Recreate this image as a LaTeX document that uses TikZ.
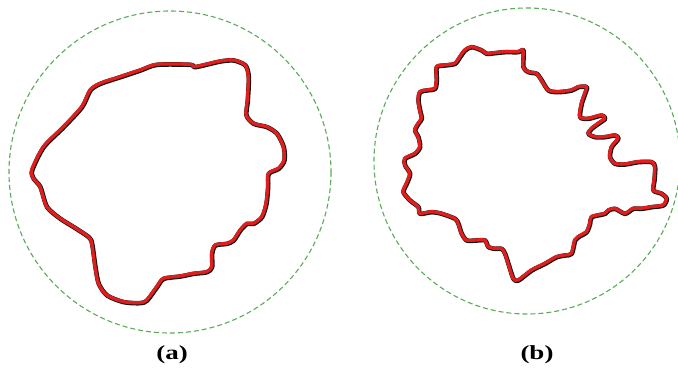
\documentclass[tikz,border=0pt]{standalone}
\usepackage{fontspec}
\setmainfont{Liberation Serif}
\usepackage{xcolor}
\definecolor{boundgreen}{RGB}{90,170,90}
\definecolor{contourred}{RGB}{225,30,30}
\definecolor{contourdark}{RGB}{25,20,20}

\begin{document}
\begin{tikzpicture}[x=1pt, y=-1pt,
  bound/.style={boundgreen, line width=1.1pt, dash pattern=on 5pt off 3pt},
  shade/.style={contourdark, line width=4.6pt, line join=round},
  contour/.style={contourred, line width=3.3pt, line join=round},
  caption/.style={font=\fontsize{20}{20}\selectfont\bfseries, xscale=1.35, anchor=base}]
  \useasboundingbox (0,0) rectangle (678,369);
  % outer boundaries
  \draw[bound] (170,172) circle[radius=161];
  \draw[bound] (527,161) circle[radius=153];
  % contour (a)
  \begin{scope}[scale=1/3]
    \foreach \sty/\dx in {shade/1.5, contour/0} {
    \draw[\sty, xshift=\dx, yshift=-\dx] plot[smooth cycle, tension=0.45] coordinates {
      (95,510) (130,440) (190,380) (245,320) (270,270) (300,250) (360,230)
      (420,210) (470,193) (570,193) (580,200) (600,197) (660,183) (700,180)
      (735,195) (745,230) (742,300) (738,345) (760,370) (800,380) (830,400)
      (850,440) (852,480) (835,505) (805,520) (803,560) (798,610) (785,650)
      (760,670) (740,670) (720,690) (700,720) (680,730) (645,735) (635,760)
      (635,800) (620,815) (580,820) (540,828) (490,835) (470,860) (440,900)
      (420,908) (370,905) (320,885) (295,850) (285,800) (275,730) (265,710)
      (220,680) (180,655) (140,620) (120,560) (100,535)};
    }
  \end{scope}
  % contour (b)
  \begin{scope}[shift={(338,0)}, scale=1/3]
    \foreach \sty/\dx in {shade/1.5, contour/0} {
    \draw[\sty, xshift=\dx, yshift=-\dx] plot[smooth cycle, tension=0.45] coordinates {
      (400,140) (430,150) (445,160) (470,158) (500,155) (540,155) (555,150)
      (555,200) (570,215) (595,220) (610,240) (630,270) (660,275) (700,270)
      (720,260) (745,260) (740,280) (730,310) (725,350) (750,355) (790,345)
      (800,355) (780,370) (760,385) (750,400) (770,410) (800,410) (830,405)
      (840,415) (820,440) (815,470) (830,490) (860,492) (900,485) (940,485)
      (950,500) (948,540) (945,570) (970,580) (985,595) (975,615) (940,620)
      (910,625) (885,625) (860,640) (830,625) (810,630) (800,640) (760,650)
      (755,670) (745,695) (720,710) (710,720) (700,760) (680,765) (655,770)
      (620,790) (580,810) (540,840) (525,835) (510,790) (500,760) (490,745)
      (470,745) (450,740) (440,720) (415,720) (385,720) (370,700) (360,670)
      (350,655) (310,640) (280,635) (245,640) (240,620) (215,600) (195,575)
      (205,550) (215,520) (200,495) (200,475) (230,460) (245,440) (240,410)
      (230,390) (240,370) (250,355) (245,330) (240,300) (245,275) (265,270)
      (290,265) (295,240) (295,200) (320,195) (350,190) (365,170) (380,150)};
    }
  \end{scope}
  \node[caption] (capa) at (172,359) {(a)};
  \node[caption] (capb) at (537,359) {(b)};
\end{tikzpicture}
\end{document}
